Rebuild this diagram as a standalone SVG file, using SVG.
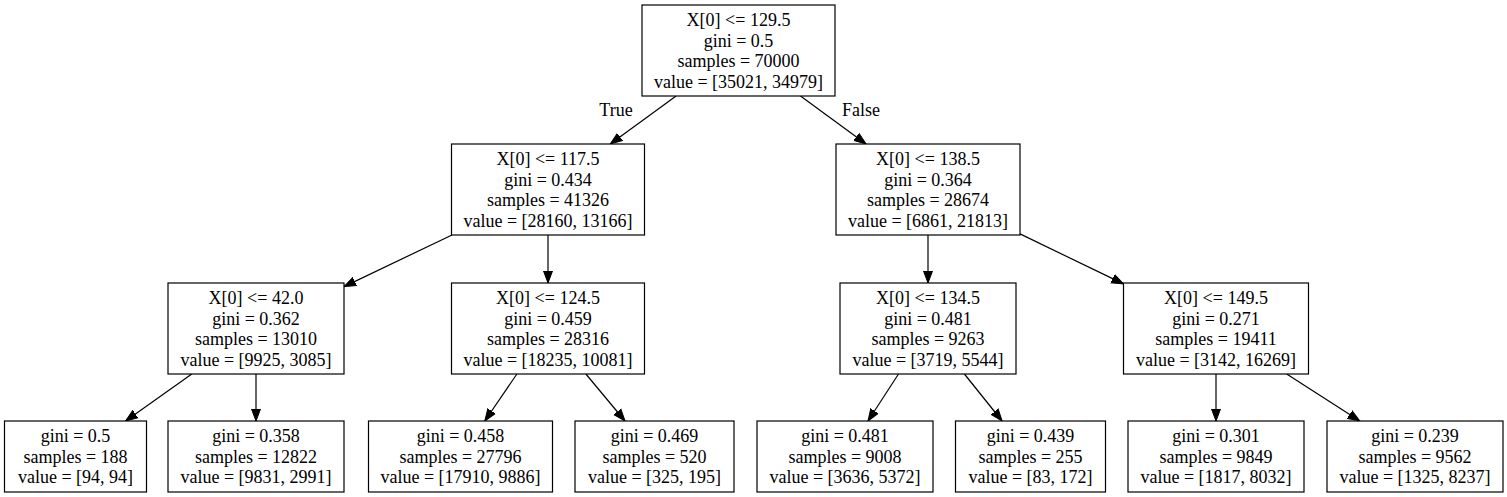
<svg xmlns="http://www.w3.org/2000/svg" width="1507" height="497" viewBox="0 0 1507 497">
<style>
.n rect{fill:#fff;stroke:#000;stroke-width:1.2}
text{font-family:"Liberation Serif","Times New Roman",serif;font-size:18px;fill:#000;text-anchor:middle}
.e path{fill:none;stroke:#000;stroke-width:1.2}
</style>
<defs>
<marker id="a" markerUnits="userSpaceOnUse" markerWidth="14" markerHeight="12" refX="12" refY="5" orient="auto" viewBox="0 0 14 10">
<path d="M0,0.5 L12,5 L0,9.5 Z" fill="#000" stroke="#000" stroke-width="1"/>
</marker>
</defs>
<rect width="1507" height="497" fill="#fff"/>
<g class="e">
<path d="M676.1,96 L610.3,144" marker-end="url(#a)"/>
<path d="M800.5,96 L866,144" marker-end="url(#a)"/>
<path d="M452,235 L344,286.6" marker-end="url(#a)"/>
<path d="M548,235 L548,283" marker-end="url(#a)"/>
<path d="M928,235 L928,283" marker-end="url(#a)"/>
<path d="M1020,233.9 L1123.5,283.9" marker-end="url(#a)"/>
<path d="M191.8,374 L125.6,421" marker-end="url(#a)"/>
<path d="M256,374 L256,421" marker-end="url(#a)"/>
<path d="M516.9,374 L484.8,421" marker-end="url(#a)"/>
<path d="M585.9,374 L625,421" marker-end="url(#a)"/>
<path d="M898.5,374 L868,421" marker-end="url(#a)"/>
<path d="M964.4,374 L1002.1,421" marker-end="url(#a)"/>
<path d="M1216,374 L1216,421" marker-end="url(#a)"/>
<path d="M1286.7,374 L1359.8,421" marker-end="url(#a)"/>
<text x="616" y="116">True</text>
<text x="861" y="116">False</text>
</g>
<g class="n" id="n0"><rect x="642" y="5" width="193" height="91"/>
<text x="738.5" y="26">X[0] &lt;= 129.5</text><text x="738.5" y="46.5">gini = 0.5</text><text x="738.5" y="67">samples = 70000</text><text x="738.5" y="87.5">value = [35021, 34979]</text></g>
<g class="n" id="n1"><rect x="451.5" y="144" width="193" height="91"/>
<text x="548" y="165">X[0] &lt;= 117.5</text><text x="548" y="185.5">gini = 0.434</text><text x="548" y="206">samples = 41326</text><text x="548" y="226.5">value = [28160, 13166]</text></g>
<g class="n" id="n8"><rect x="836" y="144" width="184" height="91"/>
<text x="928" y="165">X[0] &lt;= 138.5</text><text x="928" y="185.5">gini = 0.364</text><text x="928" y="206">samples = 28674</text><text x="928" y="226.5">value = [6861, 21813]</text></g>
<g class="n" id="n2"><rect x="168" y="283" width="176" height="91"/>
<text x="256" y="304">X[0] &lt;= 42.0</text><text x="256" y="324.5">gini = 0.362</text><text x="256" y="345">samples = 13010</text><text x="256" y="365.5">value = [9925, 3085]</text></g>
<g class="n" id="n5"><rect x="451.5" y="283" width="193" height="91"/>
<text x="548" y="304">X[0] &lt;= 124.5</text><text x="548" y="324.5">gini = 0.459</text><text x="548" y="345">samples = 28316</text><text x="548" y="365.5">value = [18235, 10081]</text></g>
<g class="n" id="n9"><rect x="840" y="283" width="176" height="91"/>
<text x="928" y="304">X[0] &lt;= 134.5</text><text x="928" y="324.5">gini = 0.481</text><text x="928" y="345">samples = 9263</text><text x="928" y="365.5">value = [3719, 5544]</text></g>
<g class="n" id="n12"><rect x="1123.5" y="283" width="185" height="91"/>
<text x="1216" y="304">X[0] &lt;= 149.5</text><text x="1216" y="324.5">gini = 0.271</text><text x="1216" y="345">samples = 19411</text><text x="1216" y="365.5">value = [3142, 16269]</text></g>
<g class="n" id="n3"><rect x="4.5" y="421" width="142" height="71"/>
<text x="75.5" y="442">gini = 0.5</text><text x="75.5" y="462.5">samples = 188</text><text x="75.5" y="483">value = [94, 94]</text></g>
<g class="n" id="n4"><rect x="168" y="421" width="176" height="71"/>
<text x="256" y="442">gini = 0.358</text><text x="256" y="462.5">samples = 12822</text><text x="256" y="483">value = [9831, 2991]</text></g>
<g class="n" id="n6"><rect x="368.5" y="421" width="184" height="71"/>
<text x="460.5" y="442">gini = 0.458</text><text x="460.5" y="462.5">samples = 27796</text><text x="460.5" y="483">value = [17910, 9886]</text></g>
<g class="n" id="n7"><rect x="575" y="421" width="159" height="71"/>
<text x="654.5" y="442">gini = 0.469</text><text x="654.5" y="462.5">samples = 520</text><text x="654.5" y="483">value = [325, 195]</text></g>
<g class="n" id="n10"><rect x="757" y="421" width="176" height="71"/>
<text x="845" y="442">gini = 0.481</text><text x="845" y="462.5">samples = 9008</text><text x="845" y="483">value = [3636, 5372]</text></g>
<g class="n" id="n11"><rect x="955.5" y="421" width="150" height="71"/>
<text x="1030.5" y="442">gini = 0.439</text><text x="1030.5" y="462.5">samples = 255</text><text x="1030.5" y="483">value = [83, 172]</text></g>
<g class="n" id="n13"><rect x="1128" y="421" width="176" height="71"/>
<text x="1216" y="442">gini = 0.301</text><text x="1216" y="462.5">samples = 9849</text><text x="1216" y="483">value = [1817, 8032]</text></g>
<g class="n" id="n14"><rect x="1327" y="421" width="176" height="71"/>
<text x="1415" y="442">gini = 0.239</text><text x="1415" y="462.5">samples = 9562</text><text x="1415" y="483">value = [1325, 8237]</text></g>
</svg>
